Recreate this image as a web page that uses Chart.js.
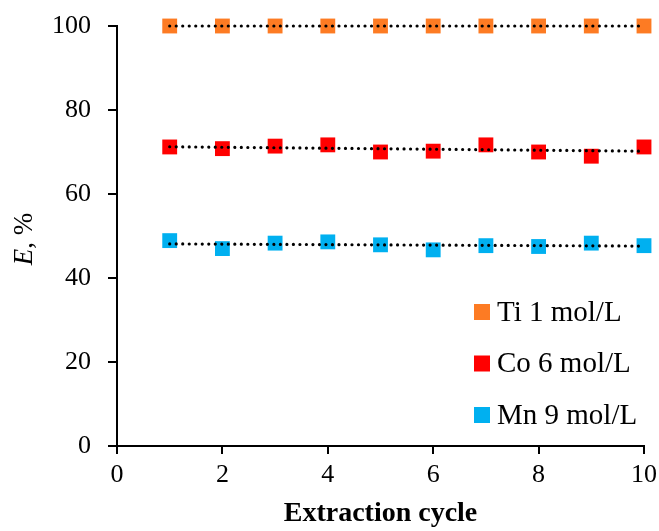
<!DOCTYPE html>
<html>
<head>
<meta charset="utf-8">
<script src="https://cdn.jsdelivr.net/npm/chart.js@4/dist/chart.umd.min.js"></script>
<style>
  html, body { margin: 0; padding: 0; background: #fff; }
  #wrap { width: 659px; height: 531px; }
</style>
</head>
<body>
<div id="wrap"><canvas id="ExtractionChart" width="659" height="531"></canvas></div>
<script>
// extraction cycle number
const Cycles = [1, 2, 3, 4, 5, 6, 7, 8, 9, 10];
// extraction degree E, % per cycle
const TiValues = [100, 100, 100, 100, 100, 100, 100, 100, 100, 100];
const CoValues = [71.2, 70.8, 71.4, 71.7, 70.0, 70.2, 71.7, 70.0, 69.0, 71.2];
const MnValues = [48.9, 47.0, 48.3, 48.6, 47.9, 46.7, 47.7, 47.5, 48.3, 47.7];
const SeriesLabels = ["Ti 1 mol/L", "Co 6 mol/L", "Mn 9 mol/L"];
const SeriesColors = ["#FD7B23", "#FF0000", "#00B0F0"];
const XTicks = [0, 2, 4, 6, 8, 10];
const YTicks = [0, 20, 40, 60, 80, 100];

const SerifFont = "'Liberation Serif', 'DejaVu Serif', serif";

function toPoints(values) {
    return Cycles.map(function (c, i) { return { x: c, y: values[i] }; });
}

// linear trendline (least squares), drawn between first and last cycle
function trendLine(values) {
    const n = Cycles.length;
    let sx = 0, sy = 0, sxy = 0, sxx = 0;
    for (let i = 0; i < n; i++) {
        sx += Cycles[i]; sy += values[i];
        sxy += Cycles[i] * values[i]; sxx += Cycles[i] * Cycles[i];
    }
    const slope = (n * sxy - sx * sy) / (n * sxx - sx * sx);
    const icept = (sy - slope * sx) / n;
    const x0 = Cycles[0], x1 = Cycles[n - 1];
    return [{ x: x0, y: icept + slope * x0 }, { x: x1, y: icept + slope * x1 }];
}

const AllValues = [TiValues, CoValues, MnValues];
let datasets = [];

AllValues.forEach(function (values) {
    datasets.push({
        type: "line",
        data: trendLine(values),
        borderColor: "#000",
        borderWidth: 3.2,
        borderDash: [0.01, 6.5],
        borderCapStyle: "round",
        pointRadius: 0,
        fill: false,
        clip: false,
        order: 0
    });
});

AllValues.forEach(function (values, i) {
    datasets.push({
        type: "scatter",
        label: SeriesLabels[i],
        data: toPoints(values),
        pointStyle: "rect",
        pointRadius: 10.5,
        pointHoverRadius: 10.5,
        backgroundColor: SeriesColors[i],
        borderColor: SeriesColors[i],
        borderWidth: 0,
        clip: false,
        order: 1
    });
});

// y title with italic "E"
const yTitlePlugin = {
    id: "yTitle",
    afterDraw(chart) {
        const ctx = chart.ctx;
        const area = chart.chartArea;
        ctx.save();
        ctx.translate(25, (area.top + area.bottom) / 2 + 3);
        ctx.rotate(-Math.PI / 2);
        ctx.fillStyle = "#000";
        ctx.textBaseline = "middle";
        const italic = "italic 27px " + SerifFont;
        const normal = "27px " + SerifFont;
        ctx.font = italic;
        const w1 = ctx.measureText("E").width;
        ctx.font = normal;
        const w2 = ctx.measureText(", %").width;
        let x = -(w1 + w2) / 2;
        ctx.font = italic;
        ctx.textAlign = "left";
        ctx.fillText("E", x, 0);
        ctx.font = normal;
        ctx.fillText(", %", x + w1, 0);
        ctx.restore();
    }
};

// legend inside plot area, lower right
const legendPlugin = {
    id: "innerLegend",
    afterDraw(chart) {
        const ctx = chart.ctx;
        const area = chart.chartArea;
        const boxX = area.right - 170;
        const firstY = area.bottom - 134;
        const step = 51.5;
        ctx.save();
        ctx.font = "29px " + SerifFont;
        ctx.textBaseline = "middle";
        ctx.textAlign = "left";
        SeriesLabels.forEach(function (label, i) {
            const cy = firstY + i * step;
            ctx.fillStyle = SeriesColors[i];
            ctx.fillRect(boxX, cy - 8, 16, 16);
            ctx.fillStyle = "#000";
            ctx.fillText(label, boxX + 23, cy + 1);
        });
        ctx.restore();
    }
};

const ChartElement = document.getElementById("ExtractionChart").getContext("2d");
const ExtractionChart = new Chart(ChartElement, {
    data: { datasets: datasets },
    options: {
        responsive: false,
        animation: false,
        layout: { autoPadding: false, padding: { top: 26, right: 15, left: 0, bottom: 0 } },
        plugins: {
            legend: { display: false },
            tooltip: { enabled: false }
        },
        scales: {
            x: {
                type: "linear",
                min: 0,
                max: 10,
                afterBuildTicks(scale) { scale.ticks = XTicks.map(function (v) { return { value: v }; }); },
                afterFit(scale) {
                    scale.height = 85;
                    scale.paddingLeft = 0;
                    scale.paddingRight = 0;
                },
                border: { display: true, color: "#000", width: 2 },
                grid: { drawOnChartArea: false, drawTicks: true, tickLength: 8, color: "#000", lineWidth: 2 },
                ticks: { color: "#000", font: { family: SerifFont, size: 26 }, padding: 6, maxRotation: 0 },
                title: {
                    display: true,
                    text: "Extraction cycle",
                    color: "#000",
                    font: { family: SerifFont, size: 28, weight: "bold" },
                    padding: { top: 0, bottom: 0 }
                }
            },
            y: {
                type: "linear",
                min: 0,
                max: 100,
                afterBuildTicks(scale) { scale.ticks = YTicks.map(function (v) { return { value: v }; }); },
                afterFit(scale) {
                    scale.width = 117;
                    scale.paddingTop = 0;
                    scale.paddingBottom = 0;
                },
                border: { display: true, color: "#000", width: 2 },
                grid: { drawOnChartArea: false, drawTicks: true, tickLength: 9, color: "#000", lineWidth: 2 },
                ticks: { color: "#000", font: { family: SerifFont, size: 26 }, padding: 17 }
            }
        }
    },
    plugins: [yTitlePlugin, legendPlugin]
});
</script>
</body>
</html>
